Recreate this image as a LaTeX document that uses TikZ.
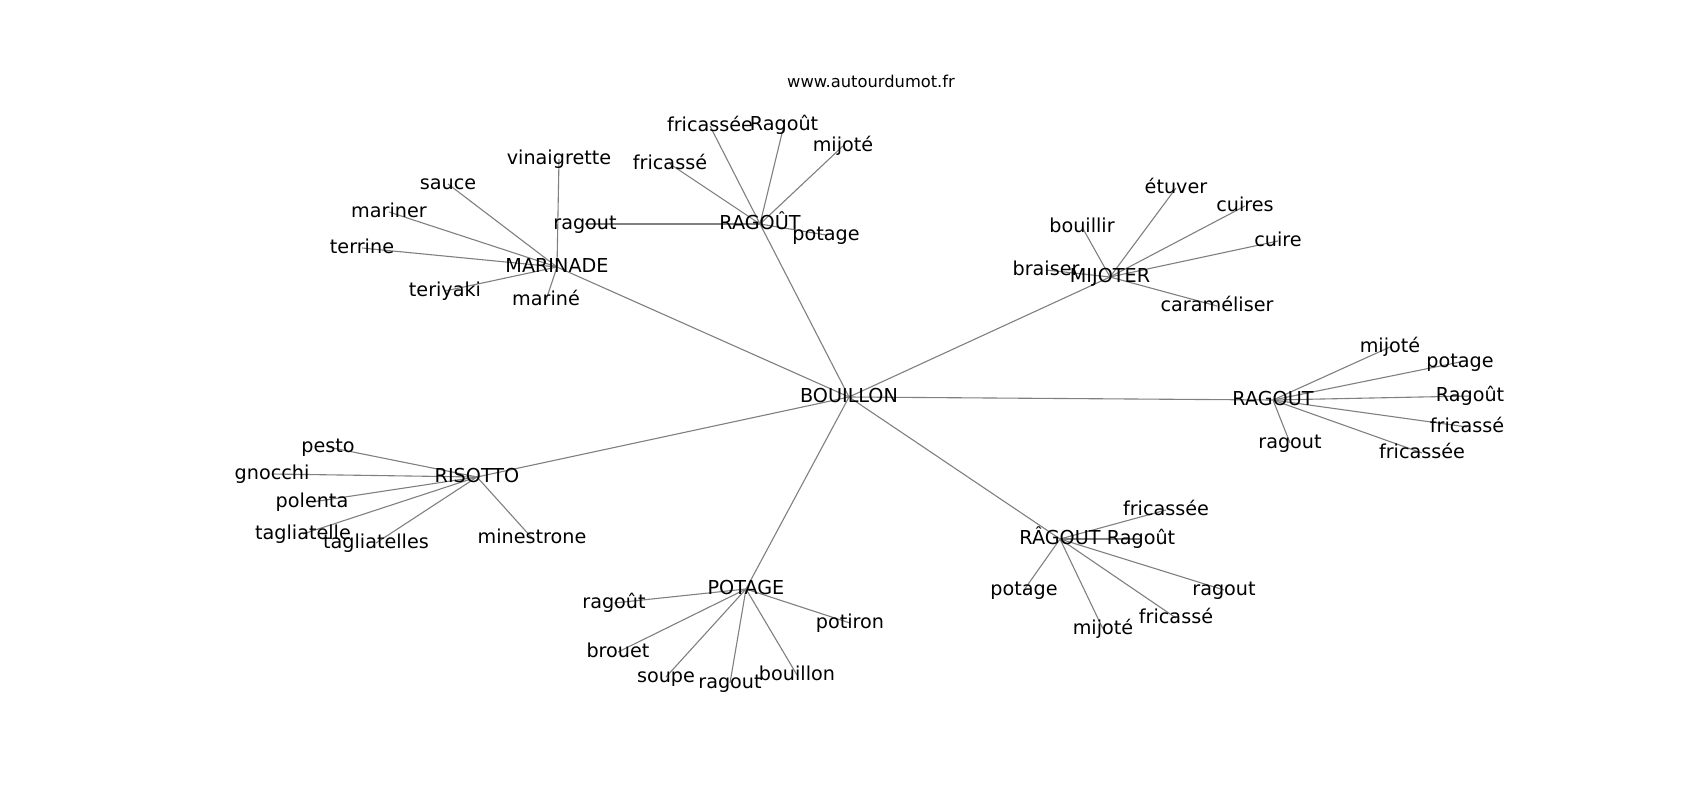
\documentclass[tikz,border=0pt]{standalone}
\usepackage{fontspec}
\setmainfont{DejaVu Sans}
\usetikzlibrary{backgrounds}
\newfontfamily\lblfam{DejaVu Sans}
\definecolor{edgegray}{HTML}{808080}
\tikzset{
  lbl/.style={font=\lblfam\fontsize{19.2}{22}\selectfont, inner sep=0pt, text height=14.6pt, text depth=4.6pt, anchor=center},
  ttl/.style={font=\lblfam\fontsize{16.3}{20}\selectfont, inner sep=0pt, anchor=base},
  edge/.style={draw=edgegray, line width=1.1pt}
}
\begin{document}
\begin{tikzpicture}[x=1pt,y=-1pt]
\useasboundingbox (0,0) rectangle (1700,800);
\node[ttl] (title) at (871,88) {www.autourdumot.fr};
% hubs
\node[lbl] (B) at (849,397) {BOUILLON};
\node[lbl] (M) at (557,267) {MARINADE};
\node[lbl] (R1) at (760,224) {RAGOÛT};
\node[lbl] (J) at (1110,277) {MIJOTER};
\node[lbl] (R2) at (1273,400) {RAGOUT};
\node[lbl] (R3) at (1060,539) {RÂGOUT};
\node[lbl] (P) at (746,589) {POTAGE};
\node[lbl] (S) at (477,477) {RISOTTO};
% MARINADE leaves
\node[lbl] (m1) at (559,159) {vinaigrette};
\node[lbl] (m2) at (448,184) {sauce};
\node[lbl] (m3) at (389,212) {mariner};
\node[lbl] (m4) at (362,248) {terrine};
\node[lbl] (m5) at (445,291) {teriyaki};
\node[lbl] (m6) at (546,300) {mariné};
% RAGOÛT leaves
\node[lbl] (a1) at (585,224) {ragout};
\node[lbl] (a2) at (670,164) {fricassé};
\node[lbl] (a3) at (710,126) {fricassée};
\node[lbl] (a4) at (784,125) {Ragoût};
\node[lbl] (a5) at (843,146) {mijoté};
\node[lbl] (a6) at (826,235) {potage};
% MIJOTER leaves
\node[lbl] (j1) at (1046,270) {braiser};
\node[lbl] (j2) at (1082,227) {bouillir};
\node[lbl] (j3) at (1176,188) {étuver};
\node[lbl] (j4) at (1245,206) {cuires};
\node[lbl] (j5) at (1278,241) {cuire};
\node[lbl] (j6) at (1217,306) {caraméliser};
% RAGOUT leaves
\node[lbl] (b1) at (1390,347) {mijoté};
\node[lbl] (b2) at (1460,362) {potage};
\node[lbl] (b3) at (1470,396) {Ragoût};
\node[lbl] (b4) at (1467,427) {fricassé};
\node[lbl] (b5) at (1422,453) {fricassée};
\node[lbl] (b6) at (1290,443) {ragout};
% RÂGOUT leaves
\node[lbl] (c1) at (1166,510) {fricassée};
\node[lbl] (c2) at (1141,539) {Ragoût};
\node[lbl] (c3) at (1024,590) {potage};
\node[lbl] (c4) at (1103,629) {mijoté};
\node[lbl] (c5) at (1176,618) {fricassé};
\node[lbl] (c6) at (1224,590) {ragout};
% POTAGE leaves
\node[lbl] (p1) at (614,603) {ragoût};
\node[lbl] (p2) at (618,652) {brouet};
\node[lbl] (p3) at (666,677) {soupe};
\node[lbl] (p4) at (730,683) {ragout};
\node[lbl] (p5) at (797,675) {bouillon};
\node[lbl] (p6) at (850,623) {potiron};
% RISOTTO leaves
\node[lbl] (s1) at (328,447) {pesto};
\node[lbl] (s2) at (272,474) {gnocchi};
\node[lbl] (s3) at (312,502) {polenta};
\node[lbl] (s4) at (303,534) {tagliatelle};
\node[lbl] (s5) at (376,543) {tagliatelles};
\node[lbl] (s6) at (532,538) {minestrone};
\begin{scope}[on background layer]
\fill[white] (0,0) rectangle (1700,800);
\foreach \h in {M,R1,J,R2,R3,P,S} \draw[edge] (B.center) -- (\h.center);
\foreach \l in {m1,m2,m3,m4,m5,m6} \draw[edge] (M.center) -- (\l.center);
\foreach \l in {a1,a2,a3,a4,a5,a6} \draw[edge] (R1.center) -- (\l.center);
\foreach \l in {j1,j2,j3,j4,j5,j6} \draw[edge] (J.center) -- (\l.center);
\foreach \l in {b1,b2,b3,b4,b5,b6} \draw[edge] (R2.center) -- (\l.center);
\foreach \l in {c1,c2,c3,c4,c5,c6} \draw[edge] (R3.center) -- (\l.center);
\foreach \l in {p1,p2,p3,p4,p5,p6} \draw[edge] (P.center) -- (\l.center);
\foreach \l in {s1,s2,s3,s4,s5,s6} \draw[edge] (S.center) -- (\l.center);
\end{scope}
\end{tikzpicture}
\end{document}
